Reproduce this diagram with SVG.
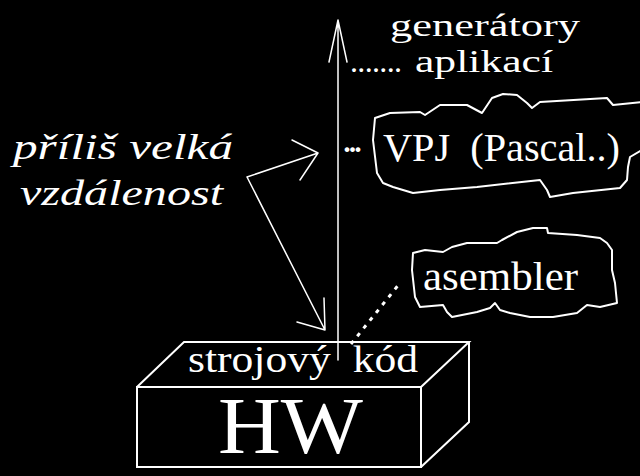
<svg xmlns="http://www.w3.org/2000/svg" width="640" height="476" viewBox="0 0 640 476">
<style>
text{fill:#fff;white-space:pre}
.ln{stroke:#fff;fill:none;stroke-width:1.5;stroke-linejoin:round;stroke-linecap:round}
.cl{stroke:#fff;fill:none;stroke-width:2;stroke-linejoin:round}
.bx{stroke:#fff;fill:none;stroke-width:2}
</style>
<rect width="640" height="476" fill="#000"/>
<g id="connectors">
  <path class="ln" d="M338,360 V20 M329,62 L338,20 L347,62"/>
  <path class="ln" d="M325,330 L247,177 L318,153 M292,140 L318,153 L300,180 M324,298 L325,330 L297,322"/>
  <path d="M351,344 L400,283" stroke="#fff" stroke-width="3" stroke-dasharray="4 6" fill="none"/>
</g>
<g id="label-top">
  <text font-family="Liberation Serif" x="390" y="36" font-size="32" textLength="190" lengthAdjust="spacingAndGlyphs">generátory</text>
  <text font-family="Liberation Serif" x="350" y="72" font-size="32" textLength="52" lengthAdjust="spacing">.......</text>
  <text font-family="Liberation Serif" x="415" y="72" font-size="32" textLength="138" lengthAdjust="spacingAndGlyphs">aplikací</text>
</g>
<g id="label-left">
  <text font-family="Liberation Serif" font-style="italic" x="13" y="159" font-size="36" textLength="220" lengthAdjust="spacingAndGlyphs">příliš velká</text>
  <text font-family="Liberation Serif" font-style="italic" x="20" y="205" font-size="36" textLength="203" lengthAdjust="spacingAndGlyphs">vzdálenost</text>
</g>
<g id="node-vpj">
  <path class="cl" d="M375,118 L390,113 L420,112 L425,115 L440,105 L467,105 L482,113 L492,98 L503,94 L517,95 L527,103 L532,108 L540,102 L607,98 L613,105 L642,102 L642,150 L630,157 L628,167 L627,180 L620,188 L573,193 L550,197 L547,190 L540,180 L477,187 L440,190 L413,193 L393,187 L383,183 L377,173 L373,140 Z"/>
  <text font-family="Liberation Serif" x="342" y="152" font-size="40" textLength="21" lengthAdjust="spacing">...</text>
  <text font-family="Liberation Serif" x="383" y="161" font-size="40" textLength="237" lengthAdjust="spacingAndGlyphs">VPJ  (Pascal..)</text>
</g>
<g id="node-asembler">
  <path class="cl" d="M413,253 L425,250 L443,252 L452,247 L467,243 L497,243 L502,240 L517,232 L533,228 L547,228 L548,233 L577,235 L600,238 L607,243 L612,250 L612,270 L615,283 L617,303 L600,307 L587,305 L577,313 L553,317 L530,317 L510,313 L500,310 L495,303 L490,308 L477,312 L452,317 L447,312 L443,305 L420,307 L415,297 L412,270 Z"/>
  <text font-family="Liberation Serif" x="423" y="290" font-size="40" textLength="155" lengthAdjust="spacingAndGlyphs">asembler</text>
</g>
<g id="node-hw">
  <rect class="bx" x="137" y="387" width="284" height="80"/>
  <path class="bx" d="M137,387 L184,342 L469,342 L421,387 M469,342 V422 L421,467"/>
  <text font-family="Liberation Serif" x="188" y="372" font-size="38" textLength="230" lengthAdjust="spacingAndGlyphs">strojový  kód</text>
  <text font-family="Liberation Serif" x="218" y="453" font-size="80" textLength="145" lengthAdjust="spacingAndGlyphs">HW</text>
</g>
</svg>
